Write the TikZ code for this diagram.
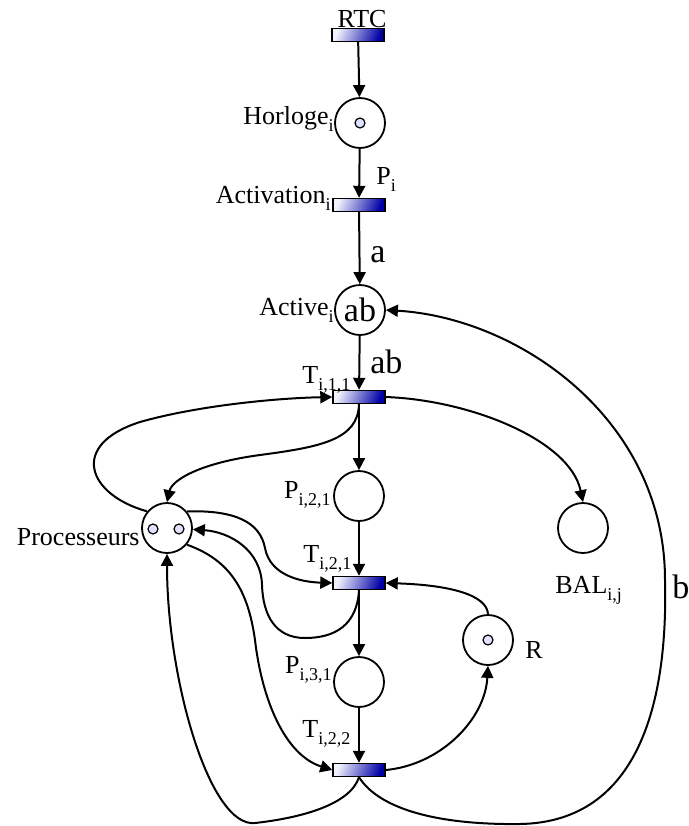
\documentclass[tikz,border=0pt]{standalone}
\usepackage{fontspec}
\setmainfont{Liberation Serif}
\usetikzlibrary{arrows.meta}
\def\lsub#1{\raisebox{-3.5pt}{\fontsize{9}{10}\selectfont #1}}
\tikzset{
	place/.style={circle, draw, line width=0.9pt, minimum size=25pt, inner sep=0pt},
	trans/.style={rectangle, draw, line width=0.7pt, minimum width=26pt, minimum height=6.5pt, inner sep=0pt,
		left color=blue!5, right color=blue!65!black, shading angle=70},
	tok/.style={circle, draw, line width=0.6pt, fill=blue!12, minimum size=5pt, inner sep=0pt},
	lbl/.style={inner sep=0pt, font=\fontsize{13}{15}\selectfont},
	big/.style={inner sep=0pt, font=\fontsize{17}{20}\selectfont},
	arc/.style={-{Triangle[length=6pt,width=6pt]}, line width=1pt},
}

\begin{document}
\begin{tikzpicture}[x=0.5pt, y=-0.5pt]
		%%%%% START %%%%%
		\useasboundingbox (0, 0) rectangle (689, 826);
		
		% transitions
		\node[trans] (RTC) at (358, 35) {};
		\node[trans] (Activation) at (359, 205) {};
		\node[trans] (T111) at (359, 397) {};
		\node[trans] (T211) at (359, 583) {};
		\node[trans] (T212) at (359, 770) {};
		
		% places
		\node[place] (Horloge) at (360, 123) {};
		\node[tok] (hTok) at (360, 123) {};
		\node[place, big] (Active) at (360, 310) {ab};
		\node[place] (P121) at (359, 496) {};
		\node[place] (Proc) at (167, 528) {};
		\node[tok] (pTokA) at (153, 529) {};
		\node[tok] (pTokB) at (179, 529) {};
		\node[place] (BAL) at (583, 528) {};
		\node[place] (R) at (488, 640) {};
		\node[tok] (rTok) at (488, 640) {};
		\node[place] (P131) at (359, 682) {};
		
		% labels
		\node[lbl, anchor=base] (lRTC) at (362, 27) {RTC};
		\node[lbl, anchor=base east] (lHorloge) at (334, 124) {Horloge\lsub{i}};
		\node[lbl, anchor=base east] (lActivation) at (331, 203) {Activation\lsub{i}};
		\node[lbl, anchor=base west] (lPi) at (376, 184) {P\lsub{i}};
		\node[big, anchor=base west] (la) at (370, 262) {a};
		\node[lbl, anchor=base east] (lActive) at (334, 315) {Active\lsub{i}};
		\node[big, anchor=base west] (lab) at (370, 373) {ab};
		\node[lbl, anchor=base west] (lT111) at (302, 383) {T\lsub{i,1,1}};
		\node[lbl, anchor=base east] (lP121) at (331, 498) {P\lsub{i,2,1}};
		\node[lbl, anchor=base east] (lProc) at (140, 545) {Processeurs};
		\node[lbl, anchor=base west] (lBAL) at (555, 593) {BAL\lsub{i,j}};
		\node[lbl, anchor=base west] (lT211) at (303, 562) {T\lsub{i,2,1}};
		\node[lbl, anchor=base west] (lR) at (525, 658) {R};
		\node[lbl, anchor=base east] (lP131) at (332, 673) {P\lsub{i,3,1}};
		\node[lbl, anchor=base west] (lT212) at (302, 737) {T\lsub{i,2,2}};
		\node[big, anchor=base west] (lb) at (672, 598) {b};
		
		% straight arcs
		\draw[arc] (RTC) -- (Horloge);
		\draw[arc] (Horloge) -- (Activation);
		\draw[arc] (Activation) -- (Active);
		\draw[arc] (Active) -- (T111);
		\draw[arc] (T111) -- (P121);
		\draw[arc] (P121) -- (T211);
		\draw[arc] (T211) -- (P131);
		\draw[arc] (P131) -- (T212);
		
		% curved arcs
		\draw[arc] (T111.south) .. controls (358, 440) and (320, 447) .. (260, 455)
			.. controls (200, 463) and (172, 480) .. (Proc.north);
		\draw[arc] (Proc.140) .. controls (88, 495) and (68, 445) .. (140, 422)
			.. controls (200, 405) and (280, 398) .. (T111.west);
		\draw[arc] (T111.east) .. controls (470, 400) and (570, 440) .. (BAL.north);
		\draw[arc] (Proc.40) .. controls (235, 510) and (260, 522) .. (265, 548)
			.. controls (270, 575) and (300, 582) .. (T211.west);
		\draw[arc] (T211.south) .. controls (357, 625) and (335, 638) .. (305, 638)
			.. controls (275, 638) and (263, 615) .. (262, 585)
			.. controls (261, 550) and (230, 532) .. (Proc.-3);
		\draw[arc] (Proc.-40) .. controls (230, 560) and (248, 590) .. (255, 640)
			.. controls (262, 700) and (285, 755) .. (T212.west);
		\draw[arc] (T212.south) .. controls (350, 805) and (300, 818) .. (255, 823)
			.. controls (210, 828) and (167, 680) .. (Proc.south);
		\draw[arc] (T212.south) .. controls (380, 810) and (440, 825) .. (520, 824)
			.. controls (640, 822) and (668, 700) .. (665, 580)
			.. controls (665, 420) and (520, 318) .. (Active.east);
		\draw[arc] (T212.east) .. controls (440, 765) and (485, 720) .. (R.south);
		\draw[arc] (R.north) .. controls (487, 595) and (450, 585) .. (T211.east);
		%%%%% END %%%%%
\end{tikzpicture}
\end{document}
